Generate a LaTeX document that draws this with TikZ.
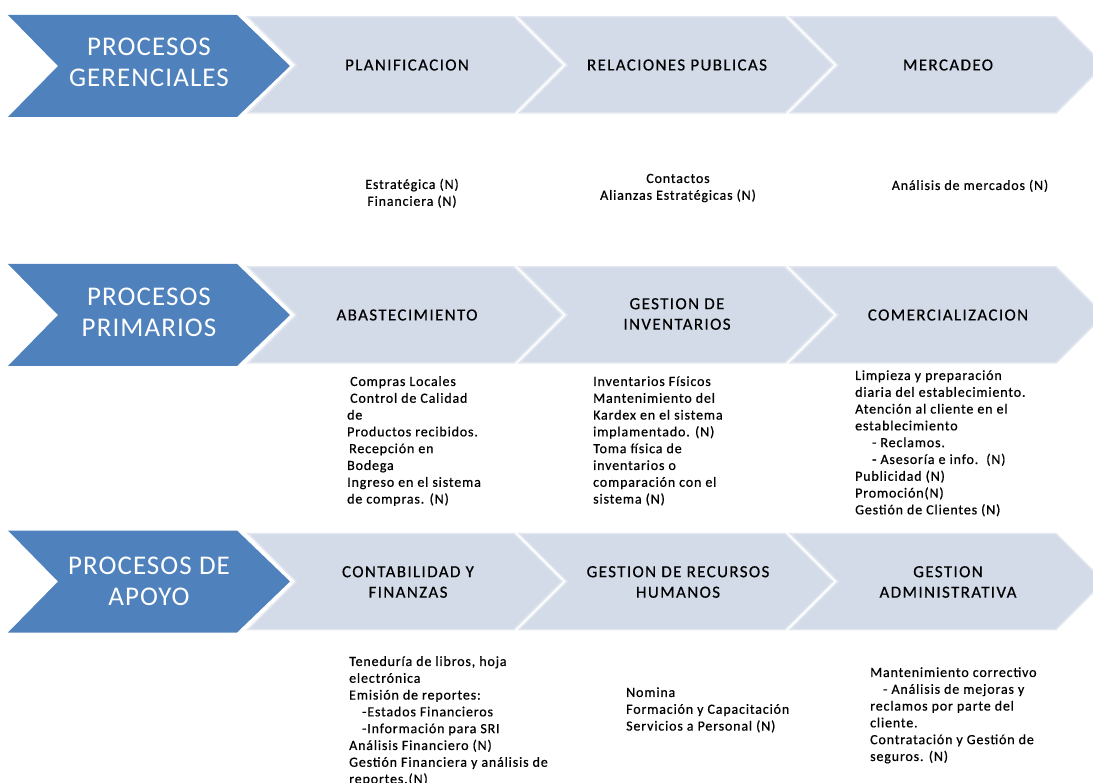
\documentclass[tikz,border=0pt]{standalone}
\usepackage{fontspec}
\setmainfont{Carlito}
\definecolor{procblue}{RGB}{79,129,189}
\definecolor{chevlight}{RGB}{211,219,232}
\definecolor{chevedge}{RGB}{226,231,240}
\tikzset{
  bluechev/.style={fill=procblue},
  lightchev/.style={fill=chevlight, draw=chevedge, line width=1.5pt, line join=miter},
  headtext/.style={text=white, align=center, inner sep=0pt,
    font=\fontsize{27}{31}\selectfont\addfontfeature{LetterSpace=4}},
  steptitle/.style={align=center, inner sep=0pt,
    font=\fontsize{17}{20.5}\selectfont\addfontfeature{LetterSpace=8,FakeBold=0.4}},
  itemlist/.style={align=left, anchor=north west, inner sep=0pt,
    font=\fontsize{14}{16.8}\selectfont\addfontfeature{LetterSpace=6,FakeBold=0.6}},
  itemcenter/.style={itemlist, align=center, anchor=north},
}
% light step chevron: #1 = left x, #2 = centre y
\newcommand\stepchevron[2]{%
  \draw[lightchev] (#1,#2-48) -- ++(266,0) -- ++(48,48) -- ++(-48,48)
    -- ++(-266,0) -- ++(48,-48) -- cycle;}
% blue process chevron: #1 = centre y
\newcommand\procchevron[1]{%
  \fill[bluechev] (8,#1-51) -- (237,#1-51) -- (290,#1) -- (237,#1+51)
    -- (8,#1+51) -- (58,#1) -- cycle;}
\begin{document}
\begin{tikzpicture}[x=1pt,y=-1pt]
\useasboundingbox (0,0) rectangle (1093,783);
\clip (0,0) rectangle (1093,783);

% ---------- row 1: management processes ----------
\procchevron{66}
\stepchevron{248}{65}
\stepchevron{519}{65}
\stepchevron{790}{65}
\node[headtext] (gerhead) at (149,62.5) {PROCESOS\\GERENCIALES};
\node[steptitle] (plan) at (407,65) {PLANIFICACION};
\node[steptitle] (relpub) at (677,65) {RELACIONES PUBLICAS};
\node[steptitle] (merc) at (948,65) {MERCADEO};

\node[itemcenter] (planlist) at (412,177) {\strut Estratégica (N)\\Financiera (N)};
\node[itemcenter] (relpublist) at (678,171) {\strut Contactos\\Alianzas Estratégicas (N)};
\node[itemcenter] (merclist) at (970,178) {\strut Análisis de mercados (N)};

% ---------- row 2: primary processes ----------
\procchevron{315}
\stepchevron{248}{315}
\stepchevron{519}{315}
\stepchevron{790}{315}
\node[headtext] (primhead) at (149,312.5) {PROCESOS\\PRIMARIOS};
\node[steptitle] (abast) at (407,315) {ABASTECIMIENTO};
\node[steptitle] (inv) at (677,314) {GESTION DE\\INVENTARIOS};
\node[steptitle] (comer) at (948,315) {COMERCIALIZACION};

\node[itemlist] (abastlist) at (347,374) {\strut\hspace{3pt}Compras Locales\\
  \hspace{3pt}Control de Calidad\\
  de\\
  Productos recibidos.\\
  \hspace{2pt}Recepción en\\
  Bodega\\
  Ingreso en el sistema\\
  de compras. (N)};
\node[itemlist] (invlist) at (593,374) {\strut Inventarios Físicos\\
  Mantenimiento del\\
  Kardex en el sistema\\
  implamentado. (N)\\
  Toma física de\\
  inventarios o\\
  comparación con el\\
  sistema (N)};
\node[itemlist] (comerlist) at (855,368) {\strut Limpieza y preparación\\
  diaria del establecimiento.\\
  Atención al cliente en el\\
  establecimiento\\
  \hspace{17pt}- Reclamos.\\
  \hspace{17pt}- Asesoría e info.\ \ (N)\\
  Publicidad (N)\\
  Promoción(N)\\
  Gestión de Clientes (N)};

% ---------- row 3: support processes ----------
\procchevron{581.5}
\stepchevron{248}{581.5}
\stepchevron{519}{581.5}
\stepchevron{790}{581.5}
\node[headtext] (apohead) at (149,581.5) {PROCESOS DE\\APOYO};
\node[steptitle] (conta) at (408,582) {CONTABILIDAD Y\\FINANZAS};
\node[steptitle] (rrhh) at (678,582) {GESTION DE RECURSOS\\HUMANOS};
\node[steptitle] (admin) at (948,582) {GESTION\\ADMINISTRATIVA};

\node[itemlist] (contalist) at (349,654) {\strut Teneduría de libros, hoja\\
  electrónica\\
  Emisión de reportes:\\
  \hspace{13pt}-Estados Financieros\\
  \hspace{13pt}-Información para SRI\\
  Análisis Financiero (N)\\
  Gestión Financiera y análisis de\\
  reportes.(N)};
\node[itemlist] (rrhhlist) at (626,685) {\strut Nomina\\
  Formación y Capacitación\\
  Servicios a Personal (N)};
\node[itemlist] (adminlist) at (870,665) {\strut Mantenimiento correctivo\\
  \hspace{13pt}- Análisis de mejoras y\\
  reclamos por parte del\\
  cliente.\\
  Contratación y Gestión de\\
  seguros. (N)};
\end{tikzpicture}
\end{document}
